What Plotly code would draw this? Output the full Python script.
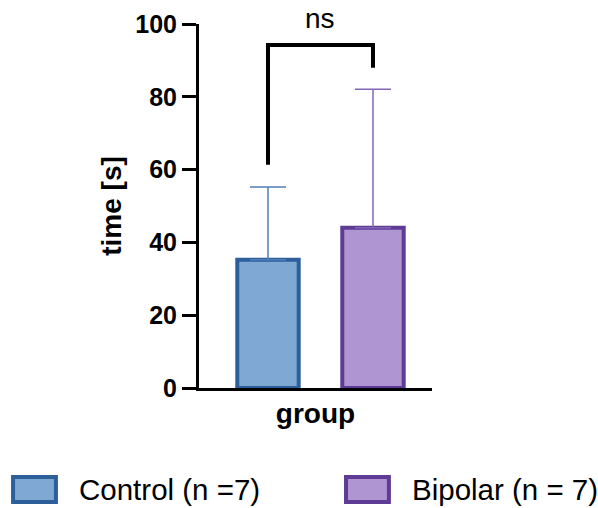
import plotly.graph_objects as go

groups = ["Control (n =7)", "Bipolar (n = 7)"]
means = [35.2, 44.0]
sd_upper = [20.0, 38.1]
fills = ["#7FA8D4", "#AF95D2"]
borders = ["#2D5F9A", "#5E3C96"]
errcolors = ["#4F7FB8", "#8366B8"]
bracket_y = [61.3, 94.2, 94.2, 88.0]
ns_label = "ns"
y_ticks = [0, 20, 40, 60, 80, 100]

FONT = "Liberation Sans, Arial, sans-serif"
fig = go.Figure()
for i, g in enumerate(groups):
    fig.add_trace(go.Bar(
        x=[i], y=[means[i]], width=0.585, name=g,
        marker=dict(color=fills[i], line=dict(color=borders[i], width=4)),
        error_y=dict(type="data", symmetric=False, array=[sd_upper[i]], arrayminus=[0],
                     color=errcolors[i], thickness=1.5, width=18),
        showlegend=False,
    ))

fig.add_trace(go.Scatter(x=[0, 0, 1, 1], y=bracket_y, mode="lines",
                         line=dict(color="black", width=4), showlegend=False,
                         hoverinfo="skip"))
fig.add_annotation(x=0.5, y=bracket_y[1], xref="x", yref="y", text=ns_label,
                   showarrow=False, yshift=27, font=dict(family=FONT, size=28, color="black"))

fig.update_layout(
    width=598, height=508,
    margin=dict(l=199, r=166, t=24, b=120, autoexpand=False),
    plot_bgcolor="white", paper_bgcolor="white",
    font=dict(family=FONT, color="black"),
    xaxis=dict(range=[-0.657, 1.562], showticklabels=False, ticks="", automargin=False,
               showgrid=False, zeroline=False, showline=True, linecolor="black", linewidth=3,
               title=dict(text="<b>group</b>", font=dict(size=28, family=FONT), standoff=14)),
    yaxis=dict(range=[0, 100], tickvals=y_ticks, ticktext=[f"<b>{v}</b>" for v in y_ticks],
               tickfont=dict(size=25, family=FONT), ticks="outside", ticklen=14, tickwidth=3,
               tickcolor="black", showgrid=False, zeroline=False, showline=True, automargin=False,
               linecolor="black", linewidth=3,
               title=dict(text="<b>time [s]</b>", font=dict(size=28, family=FONT), standoff=6)),
)

# legend drawn manually (paper coords relative to plot area)
sw_x = [(-0.798, -0.614), (0.631, 0.815)]
txt_x = [-0.525, 0.904]
for i, g in enumerate(groups):
    fig.add_shape(type="rect", xref="paper", yref="paper",
                  x0=sw_x[i][0], x1=sw_x[i][1], y0=-0.313, y1=-0.2445,
                  fillcolor=fills[i], line=dict(color=borders[i], width=4))
    fig.add_annotation(xref="paper", yref="paper", x=txt_x[i], y=-0.280,
                       xanchor="left", yanchor="middle", showarrow=False, text=g,
                       font=dict(family=FONT, size=29.5, color="black"))

fig.write_html("out.html", config={"displayModeBar": False})

# remove default body margin so the figure fills the window exactly
with open("out.html", "r", encoding="utf-8") as f:
    html = f.read()
html = html.replace("<body>", '<body style="margin:0;overflow:hidden">', 1)
with open("out.html", "w", encoding="utf-8") as f:
    f.write(html)
